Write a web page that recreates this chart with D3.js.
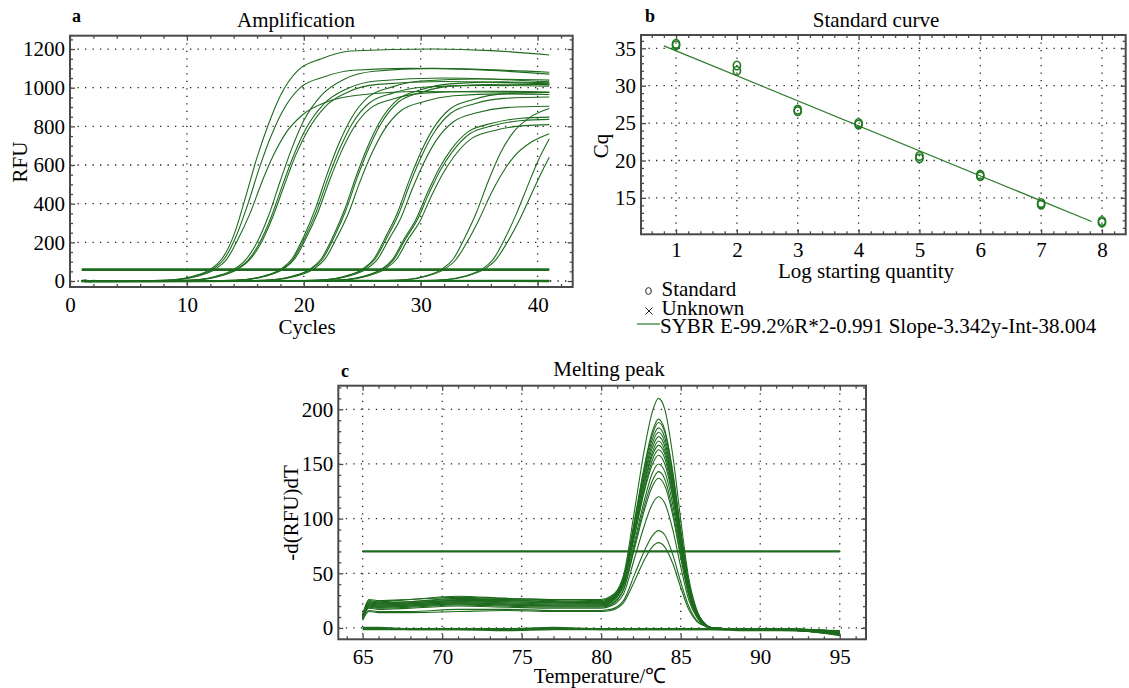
<!DOCTYPE html>
<html><head><meta charset="utf-8">
<script src="https://cdn.jsdelivr.net/npm/d3@7"></script>
<style>
html,body{margin:0;padding:0;background:#fff;}
svg{display:block;}
svg text{font-family:"Liberation Serif","Times New Roman",serif;}
</style></head><body>
<svg id="chart" width="1129" height="688"></svg>
<script>
// ---------- a: amplification runs, [cycle, RFU] per run, grouped by dilution ----------
const ampDilution8 = [
  [[1,0],[7,2],[9,8],[10.5,25],[12,60],[13,115],[14,235],[15,430],[16,640],[17,815],[18,960],[19.5,1090],[21.5,1150],[24,1190],[31,1200],[36,1192],[41,1169]],
  [[1,0],[7.2,2],[9.2,8],[10.7,25],[12.2,60],[13.2,115],[14.2,230],[15.2,395],[16.2,585],[17.2,750],[18.2,880],[19.7,1000],[21.7,1055],[24.2,1090],[29,1100],[35,1095],[41,1080]],
  [[1,0],[7.4,2],[9.4,8],[10.9,25],[12.4,60],[13.4,112],[14.4,220],[15.4,350],[16.4,510],[17.4,650],[18.4,760],[19.9,860],[21.9,925],[24.4,960],[30,980],[41,975]]
];
const ampDilution7 = [
  [[1,0],[9,2],[11,8],[12.5,25],[14,60],[15,108],[16,200],[17,340],[18,520],[19,690],[20,830],[21.5,960],[23.5,1045],[26,1085],[31,1100],[41,1070]],
  [[1,0],[9.2,2],[11.2,8],[12.7,25],[14.2,60],[15.2,106],[16.2,195],[17.2,330],[18.2,500],[19.2,660],[20.2,790],[21.7,915],[23.7,995],[26.2,1035],[32,1050],[41,1030]],
  [[1,0],[9.3,2],[11.3,8],[12.8,25],[14.3,60],[15.3,105],[16.3,192],[17.3,325],[18.3,490],[19.3,650],[20.3,775],[21.8,900],[23.8,978],[26.3,1017],[32,1032],[41,1020]]
];
const ampDilution6 = [
  [[1,0],[13,2],[15,8],[16.5,25],[18,60],[19,115],[20,230],[21,376],[22,554],[23,711],[24,836],[25.5,951],[27.5,1003],[30,1035],[35,1045],[41,1039]],
  [[1,0],[13.1,2],[15.1,8],[16.6,25],[18.1,60],[19.1,114],[20.1,226],[21.1,364],[22.1,536],[23.1,688],[24.1,810],[25.6,921],[27.6,972],[30.1,1002],[35,1012],[41,1008]],
  [[1,0],[13.2,2],[15.2,8],[16.7,25],[18.2,60],[19.2,113],[20.2,222],[21.2,354],[22.2,520],[23.2,668],[24.2,786],[25.7,894],[27.7,943],[30.2,972],[35,982],[41,978]]
];
const ampDilution5 = [
  [[1,0],[15.5,2],[17.5,8],[19,25],[20.5,60],[21.5,115],[22.5,230],[23.5,371],[24.5,546],[25.5,700],[26.5,824],[28,937],[30,989],[32.5,1020],[37,1030],[41,1025]],
  [[1,0],[15.6,2],[17.6,8],[19.1,25],[20.6,60],[21.6,114],[22.6,228],[23.6,366],[24.6,540],[25.6,692],[26.6,814],[28.1,926],[30.1,977],[32.6,1008],[37,1018],[41,1016]],
  [[1,0],[15.8,2],[17.8,8],[19.3,25],[20.8,60],[21.8,113],[22.8,222],[23.8,348],[24.8,513],[25.8,658],[26.8,774],[28.3,881],[30.3,929],[32.8,958],[37,968],[41,965]]
];
const ampDilution4 = [
  [[1,0],[20,2],[22,8],[23.5,25],[25,60],[26,115],[27,228],[28,352],[29,518],[30,665],[31,782],[32.5,890],[34.5,939],[37,968],[41,975]],
  [[1,0],[20.1,2],[22.1,8],[23.6,25],[25.1,60],[26.1,114],[27.1,224],[28.1,344],[29.1,506],[30.1,649],[31.1,764],[32.6,869],[34.6,917],[37.1,945],[41,952]],
  [[1,0],[20.3,2],[22.3,8],[23.8,25],[25.3,60],[26.3,112],[27.3,218],[28.3,326],[29.3,480],[30.3,616],[31.3,725],[32.8,824],[34.8,870],[37.3,897],[41,904]]
];
const ampDilution3 = [
  [[1,0],[21.6,2],[23.6,8],[25.1,25],[26.6,60],[27.6,112],[28.6,220],[29.6,320],[30.6,460],[31.6,585],[32.6,680],[34.1,774],[36.1,816],[38.6,842],[41,848]],
  [[1,0],[21.7,2],[23.7,8],[25.2,25],[26.7,60],[27.7,111],[28.7,218],[29.7,315],[30.7,452],[31.7,575],[32.7,668],[34.2,762],[36.2,804],[38.7,830],[41,836]],
  [[1,0],[21.9,2],[23.9,8],[25.4,25],[26.9,60],[27.9,110],[28.9,214],[29.9,305],[30.9,438],[31.9,556],[32.9,648],[34.4,739],[36.4,780],[38.9,804],[41,809]]
];
const ampDilution2 = [
  [[1,0],[26.8,2],[28.8,8],[30.3,25],[31.8,60],[32.8,115],[33.8,228],[34.8,360],[35.8,520],[36.8,660],[37.8,760],[39.3,845],[41,892]],
  [[1,0],[27,2],[29,8],[30.5,25],[32,60],[33,110],[34,205],[35,320],[36,450],[37,560],[38,645],[39.5,720],[41,762]]
];
const ampDilution1 = [
  [[1,0],[30.2,2],[32.2,8],[33.7,25],[35.2,60],[36.2,112],[37.2,220],[38.2,350],[39.2,500],[40.1,630],[41,736]],
  [[1,0],[30.4,2],[32.4,8],[33.9,25],[35.4,60],[36.4,108],[37.4,200],[38.4,310],[39.4,440],[40.2,545],[41,640]]
];
const ampNoTemplate = [
  [[1,-4],[1.3,4],[1.7,-2],[2,1],[2.5,0],[41,0]],
  [[1,3],[1.5,-3],[10,-1],[25,1],[41,-1]],
  [[1,-1],[20,0],[41,1]]
];
const ampThreshold = 59;
const ampCycleTicks = [0, 10, 20, 30, 40];
const ampRfuTicks = [0, 200, 400, 600, 800, 1000, 1200];

// ---------- b: standard curve ----------
const logQuantity = [1, 1, 2, 2, 3, 3, 4, 4, 5, 5, 6, 6, 7, 7, 8, 8];
const cqStandard = [35.6, 35.4, 32.7, 32.0, 26.8, 26.6, 25.0, 24.8, 20.6, 20.3, 18.1, 17.9, 14.3, 14.1, 11.9, 11.7];
const fitSlope = -3.342;
const fitIntercept = 38.004;
const fitRange = [0.8, 7.83];
const logTicks = [1, 2, 3, 4, 5, 6, 7, 8];
const cqTicks = [15, 20, 25, 30, 35];
const legendLabels = ["Standard", "Unknown", "SYBR E-99.2%R*2-0.991 Slope-3.342y-Int-38.004"];

// ---------- c: melting peaks, -d(RFU)/dT on a shared temperature grid ----------
const meltTemps = [65, 65.4, 66, 68, 71, 74, 77, 80, 80.6, 81.4, 82.1, 82.7, 83.2, 83.6, 84.0, 84.5, 85.0, 85.5, 86.0, 86.5, 87.0, 89, 92, 95];
const meltRuns = [
  [11,24,23,24,27,26,24,24, 28,48,108,162,197,210,200,158,99,46,17,4,0, -1,-2,-4],
  [10,23,22,23,25,25,24,23, 26,45,99,147,179,191,181,143,90,42,15,4,0, -1,-1,-5],
  [12,22,21,22,24,24,23,22, 25,44,97,145,176,188,179,141,88,41,15,4,0, -1,-2,-3],
  [11,25,24,26,29,27,26,25, 28,46,96,142,172,183,174,137,86,40,15,4,0, -1,-2,-6],
  [9,21,20,21,23,22,21,21, 24,42,92,138,168,179,170,134,84,39,14,4,0, -1,-1,-4],
  [12,24,23,24,26,26,25,24, 27,44,92,136,164,175,166,131,82,39,14,4,0, -1,-2,-5],
  [10,20,19,20,22,21,20,20, 23,40,88,132,160,171,162,128,80,38,14,3,0, -1,-1,-3],
  [11,23,22,23,25,24,23,23, 26,42,88,130,157,167,159,125,78,37,13,3,0, -1,-2,-7],
  [10,22,21,22,24,23,22,22, 25,40,85,126,153,163,155,122,77,36,13,3,0, -1,-1,-4],
  [12,26,25,26,28,27,26,26, 29,43,85,124,149,158,150,119,74,35,13,3,0, -1,-2,-5],
  [9,21,20,21,23,22,21,21, 24,38,79,116,141,150,143,113,71,33,12,3,0, -1,-1,-3],
  [8,19,18,19,21,20,19,19, 21,35,75,111,134,143,136,107,67,31,11,3,0, -1,-2,-6],
  [10,20,19,20,22,21,20,20, 22,35,73,107,129,137,130,103,64,30,11,3,0, -1,-1,-4],
  [9,18,17,18,20,19,18,18, 20,31,64,93,113,120,114,90,56,26,10,2,0, -1,-2,-5],
  [8,16,15,15,17,17,16,16, 17,25,49,70,84,89,85,67,42,20,7,2,0, -1,-1,-3],
  [7,15,14,14,15,16,15,15, 16,23,43,62,74,78,74,59,37,17,6,2,0, -1,-2,-4]
];
const meltNoTemplate = [
  [-1,-1,-1,-1,-1,-2,-1,-1,-1,-1,-1,-1,-1,-1,-1,-1,-1,-1,-1,-1,-1,-1,-2,-3],
  [0,0,0,-1,-1,-1,0,-1,-1,-1,-1,-1,-1,-1,-1,-1,-1,-1,-1,-1,-1,-2,-2,-6]
];
const meltThreshold = 70;
const tempTicks = [65, 70, 75, 80, 85, 90, 95];
const derivTicks = [0, 50, 100, 150, 200];

// ---------- drawing ----------
const svg = d3.select("#chart");
svg.append("rect").attr("width", 1129).attr("height", 688).attr("fill", "#fff");
const GREEN = "#1e6b1e";
const FRAME = "#4a4a4a";
const FS = 21;

function range(a, b, step) { return d3.range(a, b + step / 2, step); }

function panel(cfg) {
  const g = svg.append("g");
  const x = d3.scaleLinear().domain(cfg.xDomain).range([cfg.left, cfg.right]);
  const y = d3.scaleLinear().domain(cfg.yDomain).range([cfg.bottom, cfg.top]);
  const inX = v => v >= cfg.xDomain[0] && v <= cfg.xDomain[1];
  const inY = v => v >= cfg.yDomain[0] && v <= cfg.yDomain[1];

  // dotted grid at major ticks
  const grid = g.append("g").attr("stroke", "#222").attr("stroke-width", 1.3)
    .attr("stroke-dasharray", "1.3,6.2");
  grid.selectAll(".gx").data(cfg.xTicks.filter(v => v > cfg.xDomain[0])).join("line")
    .attr("x1", d => x(d)).attr("x2", d => x(d)).attr("y1", cfg.top).attr("y2", cfg.bottom);
  grid.selectAll(".gy").data(cfg.yTicks).join("line")
    .attr("y1", d => y(d)).attr("y2", d => y(d)).attr("x1", cfg.left).attr("x2", cfg.right);

  // inward ticks on all four sides
  const tickStyle = sel => {
    sel.select(".domain").remove();
    sel.selectAll("line").attr("stroke", FRAME).attr("stroke-width", 1.3);
    sel.attr("font-family", null).attr("font-size", null);
    sel.selectAll("text").attr("font-size", FS).attr("fill", "#000");
  };
  const xMinor = cfg.xMinor.filter(inX), yMinor = cfg.yMinor.filter(inY);
  [[d3.axisBottom, cfg.bottom], [d3.axisTop, cfg.top]].forEach(([ax, pos], i) => {
    g.append("g").attr("transform", `translate(0,${pos})`)
      .call(ax(x).tickValues(xMinor).tickSize(-3).tickFormat("")).call(tickStyle);
    g.append("g").attr("transform", `translate(0,${pos})`)
      .call(ax(x).tickValues(cfg.xTicks).tickSize(-5).tickPadding(cfg.xPad || 10)
        .tickFormat(i === 0 ? d3.format("d") : "")).call(tickStyle);
  });
  [[d3.axisLeft, cfg.left], [d3.axisRight, cfg.right]].forEach(([ax, pos], i) => {
    g.append("g").attr("transform", `translate(${pos},0)`)
      .call(ax(y).tickValues(yMinor).tickSize(-3).tickFormat("")).call(tickStyle);
    g.append("g").attr("transform", `translate(${pos},0)`)
      .call(ax(y).tickValues(cfg.yTicks).tickSize(-5).tickPadding(5)
        .tickFormat(i === 0 ? d3.format("d") : "")).call(tickStyle);
  });

  const clipId = "clip-" + cfg.name;
  g.append("clipPath").attr("id", clipId).append("rect")
    .attr("x", cfg.left).attr("y", cfg.top)
    .attr("width", cfg.right - cfg.left).attr("height", cfg.bottom - cfg.top);
  const plot = g.append("g").attr("clip-path", `url(#${clipId})`);

  // frame
  g.append("rect").attr("x", cfg.left).attr("y", cfg.top)
    .attr("width", cfg.right - cfg.left).attr("height", cfg.bottom - cfg.top)
    .attr("fill", "none").attr("stroke", FRAME).attr("stroke-width", 2);

  // labels
  g.append("text").attr("x", cfg.letter[0]).attr("y", cfg.letter[1])
    .attr("font-size", 18).attr("font-weight", "bold").text(cfg.name);
  g.append("text").attr("x", cfg.title[0]).attr("y", cfg.title[1])
    .attr("text-anchor", "middle").attr("font-size", FS).text(cfg.title[2]);
  g.append("text").attr("x", cfg.xLabel[0]).attr("y", cfg.xLabel[1])
    .attr("text-anchor", "middle").attr("font-size", FS).text(cfg.xLabel[2]);
  g.append("text").attr("transform", `translate(${cfg.yLabel[0]},${cfg.yLabel[1]}) rotate(-90)`)
    .attr("text-anchor", "middle").attr("font-size", FS).text(cfg.yLabel[2]);

  return { x, y, plot };
}

// ---- a ----
const pa = panel({
  name: "a", left: 70, right: 572.7, top: 35.7, bottom: 287,
  xDomain: [0, 43], yDomain: [-31, 1269],
  xTicks: ampCycleTicks, yTicks: ampRfuTicks,
  xMinor: range(0, 42, 2).filter(v => v % 10 !== 0),
  yMinor: range(0, 1250, 50).filter(v => v % 200 !== 0),
  letter: [72, 22], title: [296, 27, "Amplification"],
  xLabel: [307, 334, "Cycles"], yLabel: [27, 162, "RFU"]
});
const ampLine = d3.line().x(d => pa.x(d[0])).y(d => pa.y(d[1])).curve(d3.curveMonotoneX);
const ampRuns = [].concat(ampDilution8, ampDilution7, ampDilution6, ampDilution5,
  ampDilution4, ampDilution3, ampDilution2, ampDilution1);
pa.plot.append("g").selectAll("path").data(ampNoTemplate).join("path")
  .attr("d", ampLine).attr("fill", "none").attr("stroke", GREEN).attr("stroke-width", 2);
pa.plot.append("g").selectAll("path").data(ampRuns).join("path")
  .attr("d", ampLine).attr("fill", "none").attr("stroke", GREEN).attr("stroke-width", 1.1);
pa.plot.append("line").attr("x1", pa.x(1)).attr("x2", pa.x(41))
  .attr("y1", pa.y(ampThreshold)).attr("y2", pa.y(ampThreshold))
  .attr("stroke", GREEN).attr("stroke-width", 2.6);

// ---- b ----
const pb = panel({
  name: "b", left: 641, right: 1125.7, top: 35, bottom: 234.3,
  xDomain: [0.424, 8.39], yDomain: [10.13, 36.78],
  xTicks: logTicks, yTicks: cqTicks, xPad: 8,
  xMinor: range(0.4, 8.4, 0.2).filter(v => Math.abs(v - Math.round(v)) > 0.01),
  yMinor: range(11, 36, 1).filter(v => v % 5 !== 0),
  letter: [645, 22], title: [876, 27, "Standard curve"],
  xLabel: [866, 278, "Log starting quantity"], yLabel: [608, 146, "Cq"]
});
pb.plot.append("line")
  .attr("x1", pb.x(fitRange[0])).attr("y1", pb.y(fitSlope * fitRange[0] + fitIntercept))
  .attr("x2", pb.x(fitRange[1])).attr("y2", pb.y(fitSlope * fitRange[1] + fitIntercept))
  .attr("stroke", "#2a7a2a").attr("stroke-width", 1.2);
pb.plot.append("g").selectAll("ellipse").data(logQuantity).join("ellipse")
  .attr("cx", d => pb.x(d)).attr("cy", (d, i) => pb.y(cqStandard[i]))
  .attr("rx", 3.6).attr("ry", 4.3)
  .attr("fill", "none").attr("stroke", "#1f7a1f").attr("stroke-width", 1.6);

// legend
const lg = svg.append("g").attr("font-size", FS);
lg.append("ellipse").attr("cx", 648.5).attr("cy", 291).attr("rx", 2.8).attr("ry", 3.4)
  .attr("fill", "none").attr("stroke", "#222").attr("stroke-width", 1);
lg.append("path").attr("d", "M645.5,307.5L652.5,314.5M652.5,307.5L645.5,314.5")
  .attr("stroke", "#222").attr("stroke-width", 1);
lg.append("line").attr("x1", 637).attr("x2", 660).attr("y1", 324).attr("y2", 324)
  .attr("stroke", "#2a7a2a").attr("stroke-width", 1.2);
lg.selectAll("text").data(legendLabels).join("text")
  .attr("x", (d, i) => i === 2 ? 660 : 661.5).attr("y", (d, i) => [296, 315, 333][i]).text(d => d);

// ---- c ----
const pc = panel({
  name: "c", left: 338.3, right: 866, top: 385.7, bottom: 639.3,
  xDomain: [63.47, 96.65], yDomain: [-10.4, 221.6],
  xTicks: tempTicks, yTicks: derivTicks,
  xMinor: range(64, 96, 1).filter(v => v % 5 !== 0),
  yMinor: range(-10, 220, 10).filter(v => v % 50 !== 0),
  letter: [341, 377], title: [609, 376, "Melting peak"],
  xLabel: [600, 683, "Temperature/\u2103"], yLabel: [298, 513, "-d(RFU)dT"]
});
const meltLine = d3.line().x((d, i) => pc.x(meltTemps[i])).y(d => pc.y(d)).curve(d3.curveMonotoneX);
pc.plot.append("g").selectAll("path").data(meltNoTemplate).join("path")
  .attr("d", meltLine).attr("fill", "none").attr("stroke", GREEN).attr("stroke-width", 2.2);
pc.plot.append("g").selectAll("path").data(meltRuns).join("path")
  .attr("d", meltLine).attr("fill", "none").attr("stroke", GREEN).attr("stroke-width", 1.1);
pc.plot.append("line").attr("x1", pc.x(65)).attr("x2", pc.x(95))
  .attr("y1", pc.y(meltThreshold)).attr("y2", pc.y(meltThreshold))
  .attr("stroke", GREEN).attr("stroke-width", 2.4);
</script>
</body></html>
